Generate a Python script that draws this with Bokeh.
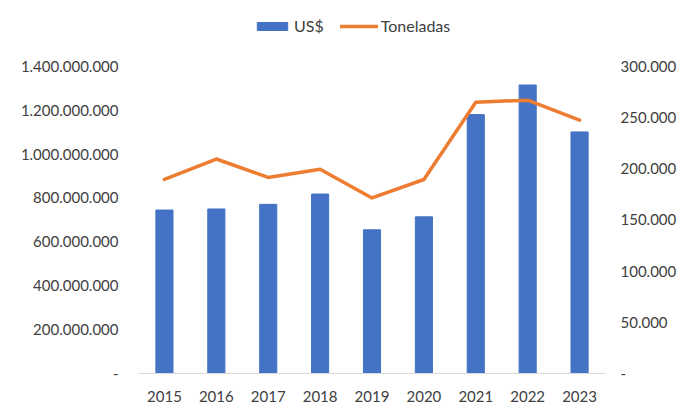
from bokeh.plotting import figure
from bokeh.models import (Range1d, LinearAxis, FixedTicker, CustomJSTickFormatter,
                          Legend, LegendItem)
from bokeh.embed import file_html
from bokeh.resources import INLINE


YEARS = ['2015', '2016', '2017', '2018', '2019', '2020', '2021', '2022', '2023']
USD = [745e6, 750e6, 771e6, 818e6, 655e6, 714e6, 1180e6, 1315e6, 1101e6]
TONELADAS = [189500, 209500, 191500, 199500, 171500, 189500, 265000, 267000, 247500]

USD_TICKS = [0, 2e8, 4e8, 6e8, 8e8, 1e9, 1.2e9, 1.4e9]
TON_TICKS = [0, 50000, 100000, 150000, 200000, 250000, 300000]

FONT = "Lato"
TEXT_COLOR = "#404040"

FMT = """
if (tick == 0) { return "-"; }
return tick.toFixed(0).replace(/\\B(?=(\\d{3})+(?!\\d))/g, ".");
"""

# the frame reaches up to the legend (so it is not clipped); the top
# tick (1.4e9 / 300.000) sits 308px above the baseline
FRAME_H = 364
AXIS_H = 308


def style_axis(axis, standoff):
    axis.axis_line_color = None
    axis.major_tick_line_color = None
    axis.minor_tick_line_color = None
    axis.major_tick_out = 0
    axis.major_label_standoff = standoff
    axis.major_label_text_font = FONT
    axis.major_label_text_font_size = "15px"
    axis.major_label_text_color = TEXT_COLOR


def make_plot():
    stretch = FRAME_H / AXIS_H
    p = figure(x_range=YEARS, y_range=Range1d(0, USD_TICKS[-1] * stretch),
               width=684, height=404,
               min_border_left=138, min_border_right=79,
               min_border_top=404 - 30 - FRAME_H, min_border_bottom=30,
               toolbar_location=None, output_backend="svg")
    p.x_range.range_padding = 0
    p.outline_line_color = None
    p.grid.grid_line_color = None
    p.extra_y_ranges = {"ton": Range1d(0, TON_TICKS[-1] * stretch)}

    bars = p.vbar(x=YEARS, top=USD, width=0.33, color="#4472C4")
    line = p.line(x=YEARS, y=TONELADAS, y_range_name="ton", color="#ED7D31",
                  line_width=3.5, line_join="round", line_cap="round")

    # left axis (US$)
    p.yaxis.ticker = FixedTicker(ticks=USD_TICKS)
    p.yaxis.formatter = CustomJSTickFormatter(code=FMT)
    style_axis(p.yaxis[0], 20)

    # right axis (toneladas)
    right = LinearAxis(y_range_name="ton", ticker=FixedTicker(ticks=TON_TICKS),
                       formatter=CustomJSTickFormatter(code=FMT))
    style_axis(right, 15)
    p.add_layout(right, "right")

    # x axis with thin gray baseline
    style_axis(p.xaxis[0], 17)
    p.xaxis.axis_line_color = "#D9D9D9"
    p.xaxis.axis_line_width = 1

    legend = Legend(items=[LegendItem(label="US$", renderers=[bars]),
                           LegendItem(label="Toneladas", renderers=[line])],
                    orientation="horizontal", location=(115, 338),
                    glyph_width=38, glyph_height=10, label_standoff=3,
                    spacing=16, padding=0, margin=0, label_height=16,
                    border_line_color=None, background_fill_alpha=0,
                    label_text_font=FONT, label_text_font_size="16px",
                    label_text_color=TEXT_COLOR)
    p.add_layout(legend, "center")
    return p


if __name__ == '__main__':
    p = make_plot()
    open("out.html", "w").write(file_html(p, INLINE))
